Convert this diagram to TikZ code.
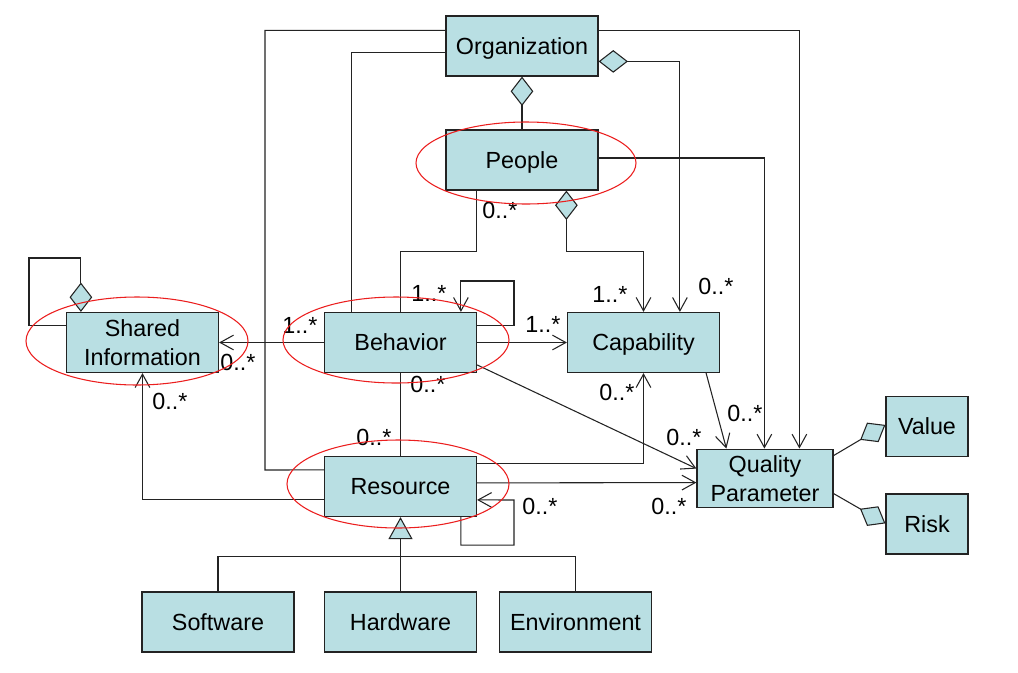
\documentclass[tikz,border=0pt]{standalone}
\usepackage{fontspec}
\setmainfont{Liberation Sans}
\usetikzlibrary{arrows.meta,calc}
\definecolor{boxfill}{RGB}{185,223,227}
\definecolor{boxline}{RGB}{35,35,35}
\definecolor{ellred}{RGB}{235,30,30}
\tikzset{
  agg/.tip={Diamond[length=22pt,width=17pt,fill=boxfill]},
  opn/.tip={Straight Barb[length=10pt,width=11pt]},
  gen/.tip={Triangle[length=16.5pt,width=18pt,fill=boxfill]}
}
\begin{document}
\begin{tikzpicture}[x=0.75pt,y=-0.75pt,
  cls/.style={draw=boxline, fill=boxfill, line width=0.9pt, minimum width=114pt,
    minimum height=45pt, inner sep=0pt, align=center,
    font=\fontsize{17.5}{21.5}\selectfont},
  box/.style={cls, text height=12.5pt, text depth=0pt},
  mult/.style={inner sep=0pt, font=\fontsize{17.5}{21}\selectfont},
  conn/.style={line width=0.8pt, draw=boxline},
  ell/.style={draw=ellred, line width=0.8pt}]
\useasboundingbox (0,0) rectangle (1018,672);

% classes
\node[box] (org) at (522,46) {Organization};
\node[box] (people) at (522,160) {People};
\node[cls] (shared) at (142.5,342.5) {Shared\\Information};
\node[box] (behavior) at (400.5,342.5) {Behavior};
\node[box] (capability) at (643.5,342.5) {Capability};
\node[box] (resource) at (400.5,486.5) {Resource};
\node[cls, minimum width=102pt, minimum height=44pt] (qp) at (765,478.5) {Quality\\Parameter};
\node[box, minimum width=61.5pt] (value) at (927,426.5) {Value};
\node[box, minimum width=61.5pt] (risk) at (927,524) {Risk};
\node[box] (software) at (218,622) {Software};
\node[box] (hardware) at (400.5,622) {Hardware};
\node[box] (environment) at (575.5,622) {Environment};

% bend points
\coordinate (b1) at (265,470);
\coordinate (bloopB) at (514,281);
\coordinate (bloopR) at (514,500);
\coordinate (bloopS) at (29,258);

% Organization connectors
\draw[conn] ($(org.north west)+(0,15)$) -| (b1) -- ($(resource.north west)+(0,14)$);
\draw[conn] ($(org.north west)+(0,37)$) -| ($(behavior.north west)+(28,0)$);
\draw[conn, -opn] ($(org.north east)+(0,15)$) -| ($(qp.north west)+(103,0)$);
\draw[conn, agg-opn] ($(org.north east)+(0,46)$) -| ($(capability.north west)+(113,0)$);
\draw[conn, agg-] (org.south) -- (people.north);

% People connectors
\draw[conn, -opn] ($(people.east)+(0,-2)$) -| ($(qp.north west)+(68,0)$);
\draw[conn] ($(people.south west)+(31,0)$) -- ++(0,61) -| (behavior.north);
\draw[conn, agg-opn] ($(people.south west)+(121,0)$) -- ++(0,61) -| (capability.north);

% Behavior connectors
\draw[conn, -opn] ($(behavior.north east)+(0,14)$) -| (bloopB) -| ($(behavior.north west)+(137,0)$);
\draw[conn, -opn] (behavior.east) -- (capability.west);
\draw[conn, -opn] (behavior.west) -- (shared.east);
\draw[conn, -opn] ($(behavior.north east)+(0,53)$) -- ($(qp.north west)+(0,20)$);
\draw[conn] (behavior.south) -- (resource.north);

% Resource connectors
\draw[conn, -opn] ($(resource.north east)+(0,8)$) -| (capability.south);
\draw[conn, -opn] ($(resource.north east)+(0,27)$) -- ($(qp.north west)+(0,34)$);
\draw[conn, -opn] ($(resource.south west)+(137,0)$) -- ++(0,28) -| (bloopR) -- ($(resource.north east)+(0,44)$);
\draw[conn, -opn] ($(resource.north west)+(0,44)$) -| (shared.south);

% Shared Information self aggregation
\draw[conn, -agg] ($(shared.north west)+(0,14)$) -| (bloopS) -| ($(shared.north west)+(15,0)$);

% Capability to Quality Parameter
\draw[conn, -opn] ($(capability.south east)+(-14,0)$) -- ($(qp.north west)+(30,0)$);

% Quality Parameter parts
\draw[conn, -agg] ($(qp.north east)+(0,7)$) -- ($(value.north west)+(0,29)$);
\draw[conn, -agg] ($(qp.north east)+(0,45)$) -- ($(risk.north west)+(0,30)$);

% Generalization
\draw[conn, -gen] (hardware.north) -- (resource.south);
\draw[conn] (software.north) -- ++(0,-35) -| (environment.north);

% multiplicities
\node[mult] (m1) at (500,210) {0..*};
\node[mult] (m2) at (610,294) {1..*};
\node[mult] (m3) at (716,286) {0..*};
\node[mult] (m4) at (429,293) {1..*};
\node[mult] (m5) at (543,324) {1..*};
\node[mult] (m6) at (300,325) {1..*};
\node[mult] (m7) at (238,362) {0..*};
\node[mult] (m8) at (428,384) {0..*};
\node[mult] (m9) at (374,437) {0..*};
\node[mult] (m10) at (170,401) {0..*};
\node[mult] (m11) at (617,392) {0..*};
\node[mult] (m12) at (745,413) {0..*};
\node[mult] (m13) at (684,437) {0..*};
\node[mult] (m14) at (540,506) {0..*};
\node[mult] (m15) at (669,506) {0..*};

% red highlight ellipses
\draw[ell] (526,163) ellipse [x radius=82.5pt, y radius=30.75pt];
\draw[ell] (137,341) ellipse [x radius=83.25pt, y radius=33pt];
\draw[ell] (396,340) ellipse [x radius=84.75pt, y radius=32.25pt];
\draw[ell] (398,484) ellipse [x radius=83.25pt, y radius=33pt];
\end{tikzpicture}
\end{document}
